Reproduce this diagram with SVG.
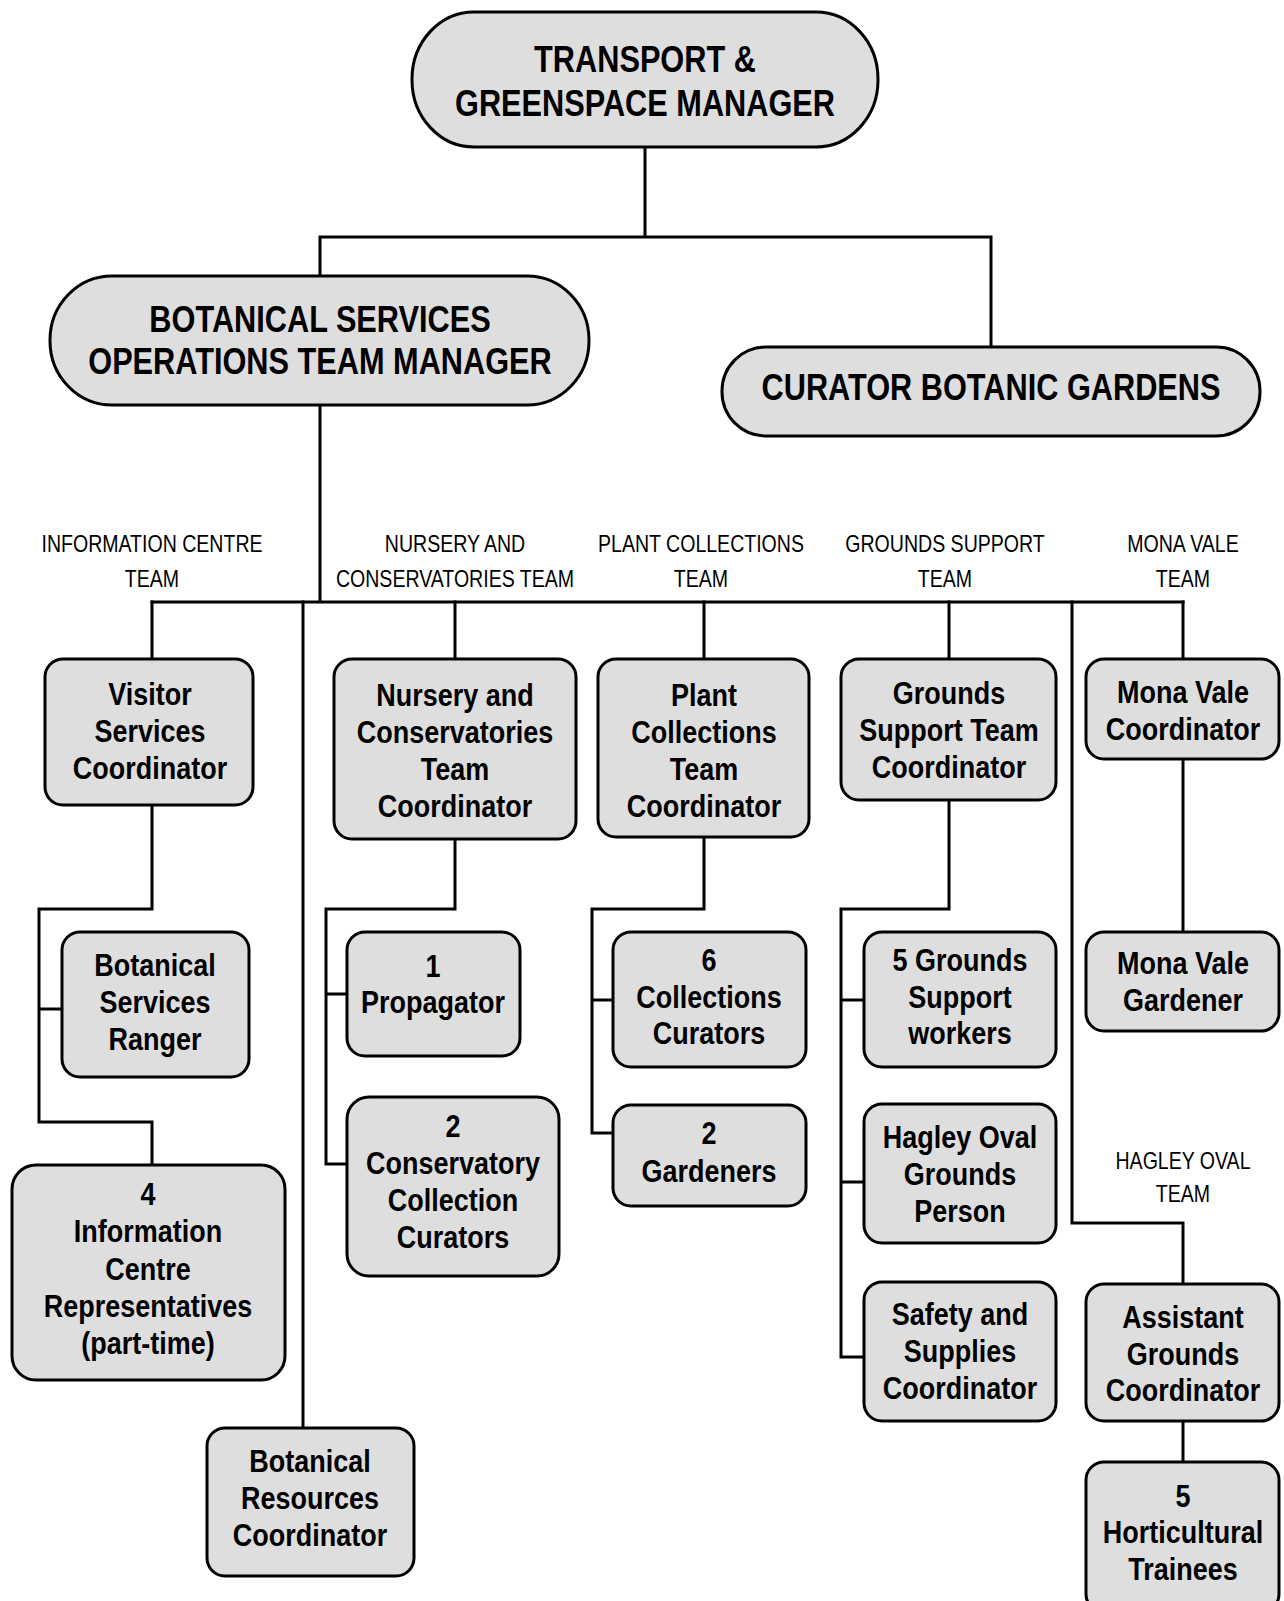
<svg xmlns="http://www.w3.org/2000/svg" width="1284" height="1601" viewBox="0 0 1284 1601">
<style>
.box{fill:#dedede;stroke:#000;stroke-width:3}
.c{fill:none;stroke:#000;stroke-width:3;stroke-linejoin:miter;stroke-linecap:square}
.n{font-family:"Liberation Sans",Arial,sans-serif;font-weight:bold;font-size:31px;text-anchor:middle;fill:#000}
.h{font-family:"Liberation Sans",Arial,sans-serif;font-weight:bold;font-size:37px;text-anchor:middle;fill:#000}
.t{font-family:"Liberation Sans",Arial,sans-serif;font-size:23px;text-anchor:middle;fill:#000}
</style>
<rect width="1284" height="1601" fill="#fff"/>
<g id="connectors">
<path class="c" d="M645 147V237M320 237H991M320 237V276M991 237V347"/>
<path class="c" d="M320 405V602M152 602H1183"/>
<path class="c" d="M152 602V659M303 602V1428M455 602V659M704 602V659M949 602V659M1183 602V659"/>
<path class="c" d="M1072 602V1223H1183V1284"/>
<path class="c" d="M152 805V909H39V1122H152V1165M39 1009H62"/>
<path class="c" d="M455 839V909H326V1164H347M326 994H347"/>
<path class="c" d="M704 837V909H592V1133H613M592 1000H613"/>
<path class="c" d="M949 800V909H841V1357H864M841 1000H864M841 1182H864"/>
<path class="c" d="M1183 759V932M1183 1421V1462"/>
</g>
<g id="team-labels">
<text class="t" transform="matrix(0.85 0 0 1 152 0)"><tspan x="0" y="552">INFORMATION CENTRE</tspan><tspan x="0" y="587">TEAM</tspan></text>
<text class="t" transform="matrix(0.85 0 0 1 455 0)"><tspan x="0" y="552">NURSERY AND</tspan><tspan x="0" y="587">CONSERVATORIES TEAM</tspan></text>
<text class="t" transform="matrix(0.85 0 0 1 701 0)"><tspan x="0" y="552">PLANT COLLECTIONS</tspan><tspan x="0" y="587">TEAM</tspan></text>
<text class="t" transform="matrix(0.85 0 0 1 945 0)"><tspan x="0" y="552">GROUNDS SUPPORT</tspan><tspan x="0" y="587">TEAM</tspan></text>
<text class="t" transform="matrix(0.85 0 0 1 1183 0)"><tspan x="0" y="552">MONA VALE</tspan><tspan x="0" y="587">TEAM</tspan></text>
<text class="t" transform="matrix(0.85 0 0 1 1183 0)"><tspan x="0" y="1169">HAGLEY OVAL</tspan><tspan x="0" y="1202">TEAM</tspan></text>
</g>
<g id="transport-greenspace-manager">
<rect class="box" x="412" y="12" width="466" height="135" rx="62" ry="67"/>
<text class="h" transform="matrix(0.83 0 0 1 645 0)"><tspan x="0" y="72">TRANSPORT &amp;</tspan><tspan x="0" y="116">GREENSPACE MANAGER</tspan></text>
</g>
<g id="botanical-services-manager">
<rect class="box" x="50" y="276" width="539" height="129" rx="62" ry="64"/>
<text class="h" transform="matrix(0.83 0 0 1 320 0)"><tspan x="0" y="332">BOTANICAL SERVICES</tspan><tspan x="0" y="374">OPERATIONS TEAM MANAGER</tspan></text>
</g>
<g id="curator-botanic-gardens">
<rect class="box" x="722" y="347" width="538" height="89" rx="44" ry="44"/>
<text class="h" transform="matrix(0.83 0 0 1 991 0)"><tspan x="0" y="400">CURATOR BOTANIC GARDENS</tspan></text>
</g>
<g id="visitor-services-coordinator">
<rect class="box" x="45" y="659" width="208" height="146" rx="18"/>
<text class="n" transform="matrix(0.87 0 0 1 150 0)"><tspan x="0" y="705">Visitor</tspan><tspan x="0" y="742">Services</tspan><tspan x="0" y="779">Coordinator</tspan></text>
</g>
<g id="nursery-coordinator">
<rect class="box" x="334" y="659" width="242" height="180" rx="18"/>
<text class="n" transform="matrix(0.87 0 0 1 455 0)"><tspan x="0" y="706">Nursery and</tspan><tspan x="0" y="743">Conservatories</tspan><tspan x="0" y="780">Team</tspan><tspan x="0" y="817">Coordinator</tspan></text>
</g>
<g id="plant-collections-coordinator">
<rect class="box" x="598" y="659" width="211" height="178" rx="18"/>
<text class="n" transform="matrix(0.87 0 0 1 704 0)"><tspan x="0" y="706">Plant</tspan><tspan x="0" y="743">Collections</tspan><tspan x="0" y="780">Team</tspan><tspan x="0" y="817">Coordinator</tspan></text>
</g>
<g id="grounds-support-coordinator">
<rect class="box" x="841" y="659" width="215" height="141" rx="18"/>
<text class="n" transform="matrix(0.87 0 0 1 949 0)"><tspan x="0" y="704">Grounds</tspan><tspan x="0" y="741">Support Team</tspan><tspan x="0" y="778">Coordinator</tspan></text>
</g>
<g id="mona-vale-coordinator">
<rect class="box" x="1086" y="659" width="193" height="100" rx="18"/>
<text class="n" transform="matrix(0.87 0 0 1 1183 0)"><tspan x="0" y="703">Mona Vale</tspan><tspan x="0" y="740">Coordinator</tspan></text>
</g>
<g id="botanical-services-ranger">
<rect class="box" x="62" y="932" width="187" height="145" rx="18"/>
<text class="n" transform="matrix(0.87 0 0 1 155 0)"><tspan x="0" y="976">Botanical</tspan><tspan x="0" y="1013">Services</tspan><tspan x="0" y="1050">Ranger</tspan></text>
</g>
<g id="propagator">
<rect class="box" x="347" y="932" width="173" height="124" rx="18"/>
<text class="n" transform="matrix(0.87 0 0 1 433 0)"><tspan x="0" y="977">1</tspan><tspan x="0" y="1013">Propagator</tspan></text>
</g>
<g id="collections-curators">
<rect class="box" x="613" y="932" width="193" height="135" rx="18"/>
<text class="n" transform="matrix(0.87 0 0 1 709 0)"><tspan x="0" y="971">6</tspan><tspan x="0" y="1008">Collections</tspan><tspan x="0" y="1044">Curators</tspan></text>
</g>
<g id="grounds-support-workers">
<rect class="box" x="864" y="932" width="192" height="135" rx="18"/>
<text class="n" transform="matrix(0.87 0 0 1 960 0)"><tspan x="0" y="971">5 Grounds</tspan><tspan x="0" y="1008">Support</tspan><tspan x="0" y="1044">workers</tspan></text>
</g>
<g id="mona-vale-gardener">
<rect class="box" x="1086" y="932" width="193" height="99" rx="18"/>
<text class="n" transform="matrix(0.87 0 0 1 1183 0)"><tspan x="0" y="974">Mona Vale</tspan><tspan x="0" y="1011">Gardener</tspan></text>
</g>
<g id="information-centre-representatives">
<rect class="box" x="12" y="1165" width="273" height="215" rx="24"/>
<text class="n" transform="matrix(0.87 0 0 1 148 0)"><tspan x="0" y="1205">4</tspan><tspan x="0" y="1242">Information</tspan><tspan x="0" y="1280">Centre</tspan><tspan x="0" y="1317">Representatives</tspan><tspan x="0" y="1354">(part-time)</tspan></text>
</g>
<g id="conservatory-collection-curators">
<rect class="box" x="347" y="1097" width="212" height="179" rx="22"/>
<text class="n" transform="matrix(0.87 0 0 1 453 0)"><tspan x="0" y="1137">2</tspan><tspan x="0" y="1174">Conservatory</tspan><tspan x="0" y="1211">Collection</tspan><tspan x="0" y="1248">Curators</tspan></text>
</g>
<g id="gardeners">
<rect class="box" x="613" y="1105" width="193" height="101" rx="18"/>
<text class="n" transform="matrix(0.87 0 0 1 709 0)"><tspan x="0" y="1144">2</tspan><tspan x="0" y="1182">Gardeners</tspan></text>
</g>
<g id="hagley-oval-grounds-person">
<rect class="box" x="864" y="1104" width="192" height="139" rx="18"/>
<text class="n" transform="matrix(0.87 0 0 1 960 0)"><tspan x="0" y="1148">Hagley Oval</tspan><tspan x="0" y="1185">Grounds</tspan><tspan x="0" y="1222">Person</tspan></text>
</g>
<g id="safety-supplies-coordinator">
<rect class="box" x="864" y="1282" width="192" height="139" rx="18"/>
<text class="n" transform="matrix(0.87 0 0 1 960 0)"><tspan x="0" y="1325">Safety and</tspan><tspan x="0" y="1362">Supplies</tspan><tspan x="0" y="1399">Coordinator</tspan></text>
</g>
<g id="assistant-grounds-coordinator">
<rect class="box" x="1086" y="1284" width="193" height="137" rx="18"/>
<text class="n" transform="matrix(0.87 0 0 1 1183 0)"><tspan x="0" y="1328">Assistant</tspan><tspan x="0" y="1365">Grounds</tspan><tspan x="0" y="1401">Coordinator</tspan></text>
</g>
<g id="horticultural-trainees">
<rect class="box" x="1086" y="1462" width="193" height="150" rx="18"/>
<text class="n" transform="matrix(0.87 0 0 1 1183 0)"><tspan x="0" y="1507">5</tspan><tspan x="0" y="1543">Horticultural</tspan><tspan x="0" y="1580">Trainees</tspan></text>
</g>
<g id="botanical-resources-coordinator">
<rect class="box" x="207" y="1428" width="207" height="148" rx="18"/>
<text class="n" transform="matrix(0.87 0 0 1 310 0)"><tspan x="0" y="1472">Botanical</tspan><tspan x="0" y="1509">Resources</tspan><tspan x="0" y="1546">Coordinator</tspan></text>
</g>
</svg>
